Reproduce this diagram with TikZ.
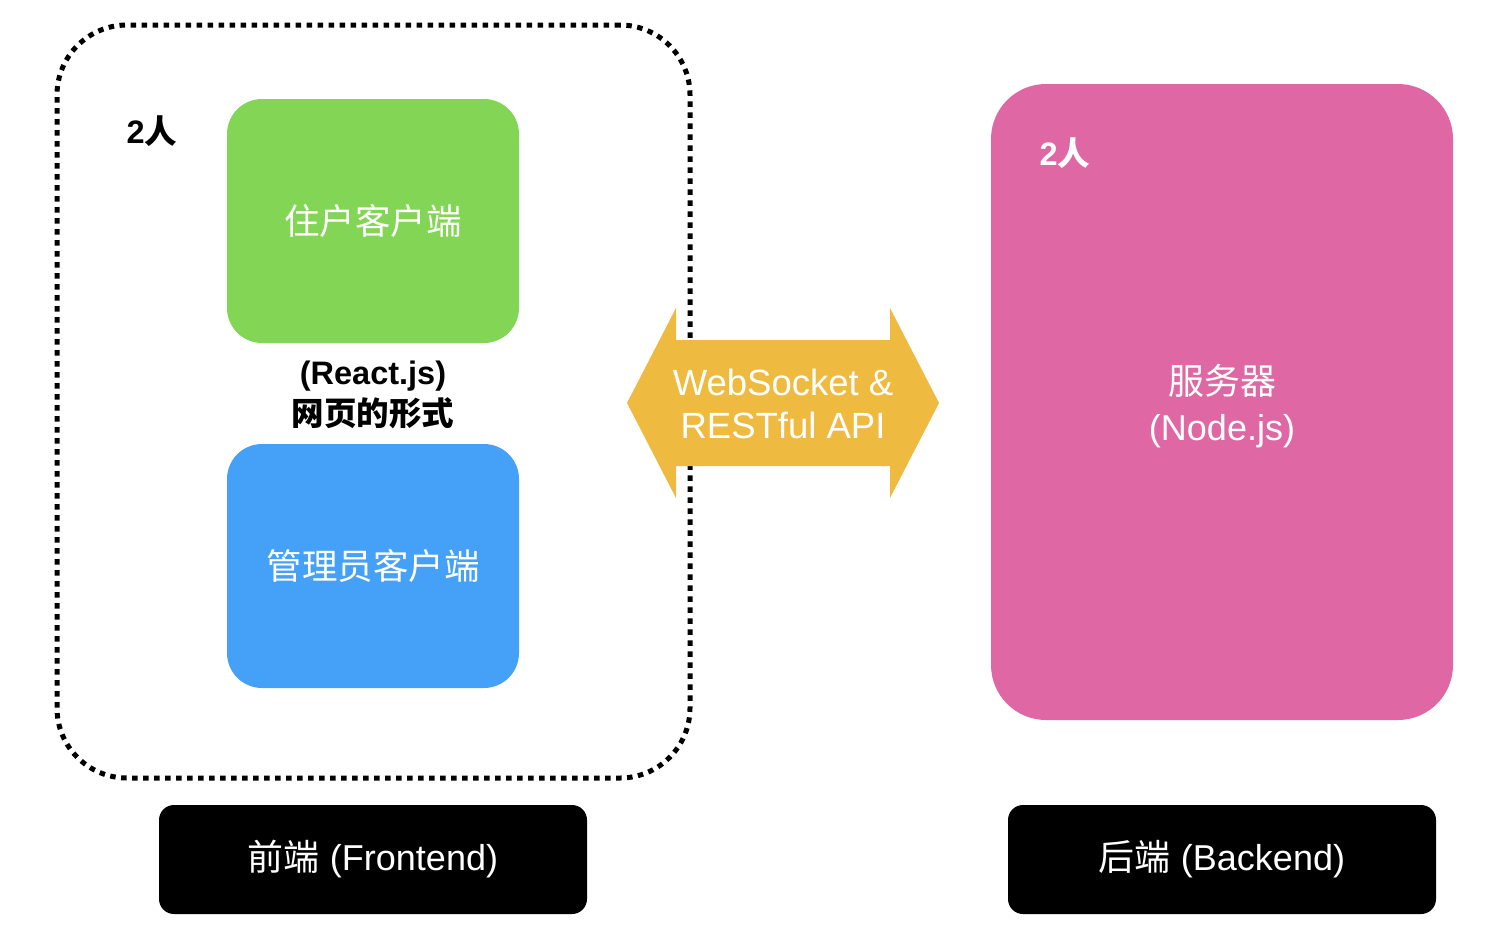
\documentclass[tikz,border=0pt]{standalone}
\usepackage{fontspec}
\setmainfont{Liberation Sans}
\newfontfamily\cjk{Noto Sans CJK SC}
\definecolor{cgreen}{HTML}{83D655}
\definecolor{cblue}{HTML}{45A1F7}
\definecolor{cyellow}{HTML}{EFBA40}
\definecolor{cpink}{HTML}{DF68A4}
\tikzset{
  box/.style={draw=none, rounded corners=#1, inner sep=0pt, text=white, align=center},
  boxtext/.style={font=\fontsize{35.5}{46}\selectfont},
  dotbox/.style={draw=black, line width=5pt, dash pattern=on 5.5pt off 5.5pt, rounded corners=70pt, inner sep=0pt},
  boldlabel/.style={font=\fontsize{32.5}{41}\selectfont\bfseries, align=center, inner sep=0pt}
}
\begin{document}
\begin{tikzpicture}[x=1pt,y=-1pt]
\useasboundingbox (0,0) rectangle (1510,930);
% front dotted container
\node[dotbox, minimum width=633pt, minimum height=753pt] (front) at (373.5,401.5) {};
% green and blue
\node[box=35pt, fill=cgreen, minimum width=292pt, minimum height=244pt, boxtext] (resident) at (373,221) {\cjk 住户客户端};
\node[box=35pt, fill=cblue, minimum width=292pt, minimum height=244pt, boxtext] (admin) at (373,566) {\cjk 管理员客户端};
\node[boldlabel] (react) at (373,395) {(React.js)\\{\cjk\bfseries 网页的形式}};
\node[boldlabel, text=black] (fpeople) at (152,131) {2{\cjk\bfseries 人}};
% pink server
\node[box=55pt, fill=cpink, minimum width=462pt, minimum height=636pt, boxtext] (server) at (1222,402) {};
\node[align=center, text=white, font=\fontsize{36}{46}\selectfont, inner sep=0pt] (servertext) at (1222,406) {{\cjk 服务器}\\(Node.js)};
\node[boldlabel, text=white] (bpeople) at (1065,153) {2{\cjk\bfseries 人}};
% double arrow
\coordinate (al) at (627,403);
\coordinate (ar) at (939,403);
\fill[cyellow] (al) -- (676,308) -- (676,340) -- (890,340) -- (890,308) -- (ar) -- (890,498) -- (890,466) -- (676,466) -- (676,498) -- cycle;
\node[align=center, text=white, font=\fontsize{36.5}{43}\selectfont, inner sep=0pt] (api) at (783,404) {WebSocket \&\\RESTful API};
% bottom labels
\node[box=15pt, fill=black, minimum width=428pt, minimum height=109pt, font=\fontsize{36}{42}\selectfont] (fe) at (373,859.5) {{\cjk 前端} (Frontend)};
\node[box=15pt, fill=black, minimum width=428pt, minimum height=109pt, font=\fontsize{36}{42}\selectfont] (be) at (1222,859.5) {{\cjk 后端} (Backend)};
\end{tikzpicture}
\end{document}
